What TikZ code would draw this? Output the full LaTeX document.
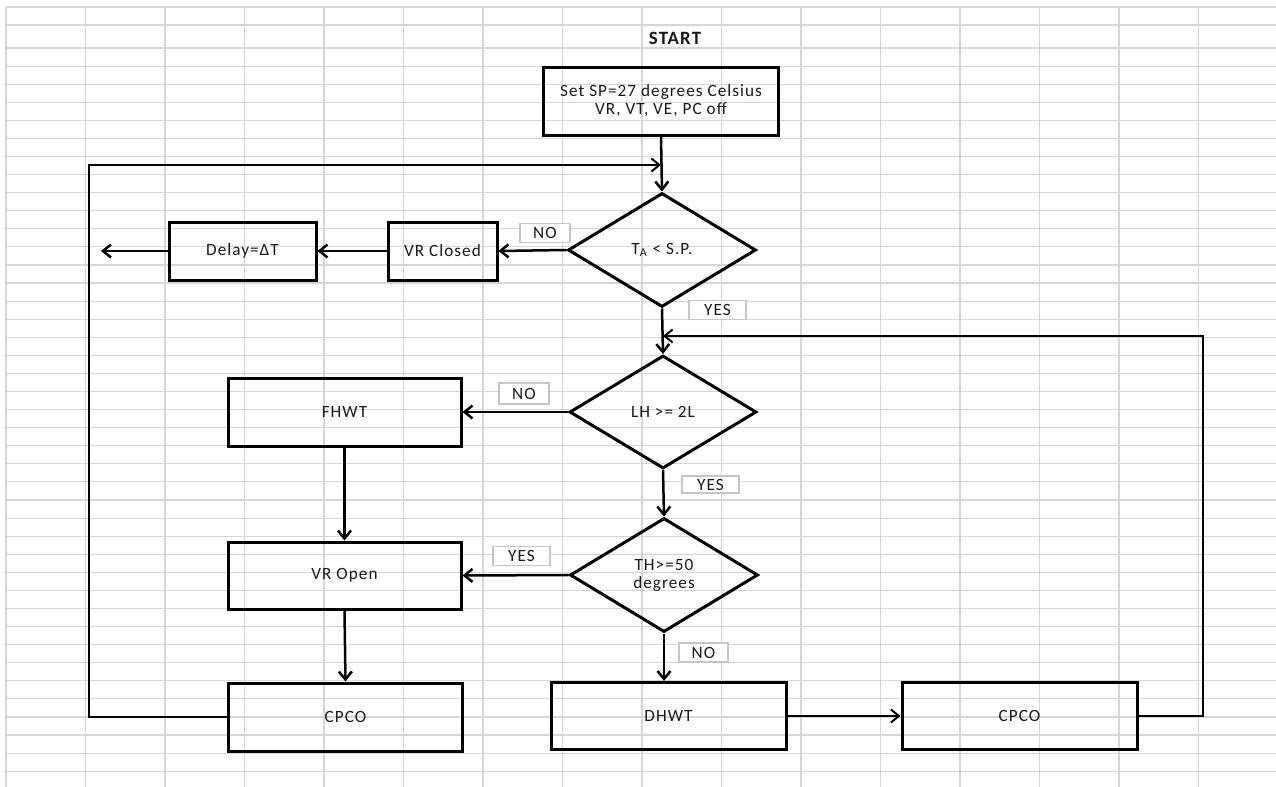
\documentclass[tikz,border=0pt]{standalone}
\usepackage{fontspec}
\setmainfont{Carlito}[LetterSpace=6]
\usetikzlibrary{shapes.geometric,arrows.meta}

\begin{document}
\begin{tikzpicture}[x=0.5pt,y=-0.5pt,
  font=\fontsize{8.6pt}{9pt}\selectfont,color=black!90,
  cell/.style={draw=gray!32,line width=0.55pt},
  box/.style={draw=black,line width=1.5pt,rectangle,inner sep=0pt,align=center},
  decision/.style={draw=black,line width=1.5pt,diamond,inner sep=0pt,align=center,
    minimum width=94pt,minimum height=57pt},
  tag/.style={draw=gray!45,fill=white,line width=0.6pt,inner sep=0pt,
    minimum width=25pt,minimum height=9.5pt},
  flow/.style={draw=black,line width=1.25pt,-{Straight Barb[length=4pt,width=6.5pt]}},
  back/.style={draw=black,line width=1pt,-{Straight Barb[length=4pt,width=6.5pt]}}]

   \useasboundingbox (0,0) rectangle (1276,787);

   % spreadsheet cells
   \foreach \gx in {0,...,15}
     \draw[cell] (6+79.5*\gx,7) -- (6+79.5*\gx,787);
   \draw[cell] (6,7) -- (1276,7);
   \draw[cell] (6,25) -- (1276,25);
   \foreach \gy in {0,...,40}
     \draw[cell] (6,48+18.08*\gy) -- (1276,48+18.08*\gy);

   \node[font=\fontsize{9.4pt}{10pt}\selectfont\bfseries] (start) at (675,38) {START};
   \node[box,minimum width=117.5pt,minimum height=34pt] (setsp) at (661,101)
     {Set SP=27 degrees Celsius\\VR, VT, VE, PC off};

   \node[decision] (ta) at (662,250) {T\textsubscript{A} < S.P.};
   \node[box,minimum width=54.5pt,minimum height=29pt] (vrclosed) at (442.5,251) {VR Closed};
   \node[box,minimum width=73.5pt,minimum height=29pt] (delay) at (242.5,251) {Delay=ΔT};
   \coordinate (exitL) at (101,251);

   \node[decision,minimum width=93.5pt,minimum height=56.5pt] (lh) at (663,412) {LH >= 2L};
   \node[box,minimum width=116.5pt,minimum height=34pt] (fhwt) at (344.5,412) {FHWT};

   \node[decision] (th) at (664,575) {TH>=50\\degrees};
   \node[box,minimum width=116.5pt,minimum height=33.5pt] (vropen) at (344.5,575.5) {VR Open};
   \node[box,minimum width=117pt,minimum height=34pt] (cpcoL) at (345.5,717) {CPCO};
   \node[box,minimum width=117.5pt,minimum height=33.5pt] (dhwt) at (668.5,716) {DHWT};
   \node[box,minimum width=117.5pt,minimum height=33.5pt] (cpcoR) at (1019.5,716) {CPCO};

   \coordinate (loopL) at (89,165);
   \coordinate (loopR) at (1203,336);

   % branch labels
   \node[tag] (noA) at (545,233) {NO};
   \node[tag,minimum width=28.5pt] (yesA) at (717.5,310) {YES};
   \node[tag,minimum height=10.5pt] (noB) at (524,393.5) {NO};
   \node[tag,minimum width=28.5pt,minimum height=8.5pt] (yesB) at (710.5,484.5) {YES};
   \node[tag,minimum width=28.5pt] (yesC) at (521.5,556) {YES};
   \node[tag,minimum width=24.5pt] (noC) at (703.5,652.5) {NO};

   \draw[flow] (setsp.south) -- (ta.north);
   \draw[flow] (ta.west) -- (vrclosed.east);
   \draw[flow] (vrclosed.west) -- (delay.east);
   \draw[flow] (delay.west) -- (exitL);
   \draw[flow] (ta.south) -- (lh.north);
   \draw[flow] (lh.west) -- (fhwt.east);
   \draw[flow] (lh.south) -- (th.north);
   \draw[flow] (th.west) -- (vropen.east);
   \draw[flow] (fhwt.south) -- (vropen.north);
   \draw[flow] (vropen.south) -- (cpcoL.north);
   \draw[flow] (th.south) -- (th.south |- dhwt.north);
   \draw[back] (dhwt.east) -- (cpcoR.west);
   %\draw[back] (cpcoL.west) -- (loopL);
   \draw[back] (cpcoL.west) -| (loopL) -- (loopL -| setsp.south);
   \draw[back] (cpcoR.east) -| (loopR) -- (loopR -| lh.north);

\end{tikzpicture}
\end{document}
